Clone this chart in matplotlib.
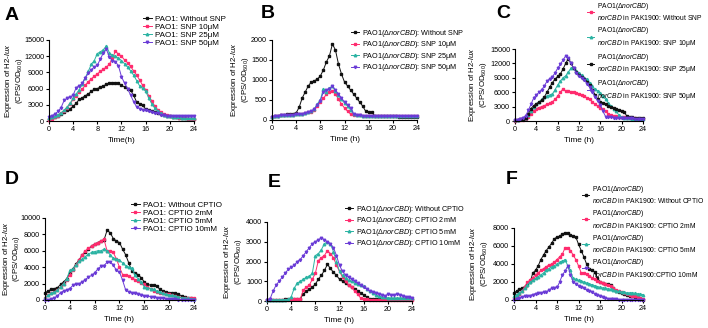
import numpy as np
import matplotlib
matplotlib.use('Agg')
import matplotlib.pyplot as plt

plt.rcParams['font.family'] = ['Liberation Sans', 'DejaVu Sans']
plt.rcParams['mathtext.fontset'] = 'custom'
plt.rcParams['mathtext.rm'] = 'Liberation Sans'
plt.rcParams['mathtext.it'] = 'Liberation Sans:italic'

# sampling every 0.5 h
time_h = np.arange(0, 24.5, 0.5)

# ---- A: PAO1 + SNP
a_none = [300, 500, 800, 1000, 1300, 1700, 2000, 2300, 2700, 3300, 4000, 4300, 4700, 5000, 5500, 5900, 6000,
          6300, 6500, 6800, 7000, 7100, 7100, 7000, 6600, 6300, 6000, 5700, 4800, 3500, 3200, 2900, 2200, 2000,
          1800, 1700, 1500, 1300, 1100, 1000, 900, 800, 700, 600, 550, 500, 450, 400, 400]
a_snp10 = [200, 400, 700, 1000, 1400, 1900, 2500, 3200, 4000, 4700, 5300, 5900, 6600, 7300, 7800, 8300, 8700,
           9200, 9600, 10000, 10500, 11700, 12900, 12400, 12000, 11300, 10800, 10100, 9300, 8500, 7600, 6600,
           5800, 4700, 3700, 2800, 2100, 1600, 1300, 1100, 900, 800, 700, 600, 550, 500, 450, 400, 400]
a_snp25 = [500, 700, 900, 1200, 1500, 2000, 2600, 3300, 4200, 5000, 5800, 6800, 8000, 9200, 10500, 11200,
           12500, 12800, 13200, 13900, 12600, 12200, 12000, 11600, 11200, 10600, 10000, 9300, 8500, 7500, 6500,
           6100, 5500, 4300, 3200, 2400, 1800, 1400, 1200, 1000, 900, 800, 700, 650, 600, 550, 500, 500, 500]
a_snp50 = [800, 1000, 1300, 1800, 2500, 3800, 4200, 4400, 4800, 6200, 6500, 7000, 8000, 8800, 9500, 10000,
           10300, 11500, 12600, 13300, 11800, 11200, 11000, 10200, 8200, 7000, 6000, 4800, 3600, 2600, 2300,
           2100, 2000, 1800, 1700, 1500, 1400, 1200, 1100, 1000, 950, 950, 900, 900, 900, 900, 900, 900, 900]

# ---- B: PAO1(dnorCBD) + SNP
b_none = [80, 100, 110, 120, 130, 140, 150, 160, 180, 320, 550, 700, 850, 950, 980, 1020, 1100, 1250, 1450,
          1600, 1900, 1750, 1400, 1150, 950, 850, 750, 650, 550, 450, 350, 220, 200, 190, 110, 100, 100, 95,
          95, 90, 90, 90, 85, 85, 85, 80, 80, 80, 80]
b_snp10 = [80, 95, 105, 115, 120, 125, 130, 135, 145, 150, 160, 170, 190, 210, 260, 350, 450, 540, 640, 700,
           720, 650, 520, 400, 300, 220, 150, 130, 120, 115, 110, 110, 105, 100, 100, 100, 95, 95, 95, 90, 90,
           90, 90, 90, 90, 90, 90, 90, 90]
b_snp25 = [80, 95, 105, 115, 120, 125, 130, 135, 145, 150, 160, 170, 190, 220, 280, 400, 500, 780, 700, 800,
           850, 720, 620, 520, 420, 350, 250, 150, 120, 115, 110, 110, 105, 100, 100, 100, 95, 95, 95, 90, 90,
           90, 90, 90, 90, 90, 90, 90, 90]
b_snp50 = [80, 95, 105, 115, 120, 125, 130, 135, 145, 150, 160, 170, 190, 220, 270, 380, 480, 700, 750, 780,
           850, 750, 650, 550, 450, 380, 300, 160, 120, 115, 110, 110, 105, 100, 100, 100, 95, 95, 95, 90, 90,
           90, 90, 90, 90, 90, 90, 90, 90]

# ---- C: complemented strain + SNP
c_none = [100, 150, 200, 300, 500, 900, 1500, 2100, 2600, 2800, 3000, 3200, 3500, 3700, 4000, 4500, 5200,
          6000, 6700, 6200, 6200, 6100, 6000, 5800, 5600, 5400, 5200, 4800, 4500, 4000, 3500, 3100, 2800, 2400,
          2000, 1500, 1200, 1100, 1000, 900, 800, 750, 700, 650, 600, 550, 500, 500, 500]
c_snp10 = [200, 250, 350, 450, 700, 1300, 2000, 2900, 3600, 4000, 4500, 5000, 5200, 5400, 5600, 6500, 7500,
           8300, 9000, 9400, 10200, 11000, 11100, 10500, 10000, 9500, 9000, 8700, 8000, 7200, 6600, 6300, 5900,
           5200, 4500, 3800, 3100, 2600, 2000, 1200, 800, 700, 600, 550, 500, 450, 400, 400, 400]
c_snp25 = [200, 250, 350, 450, 700, 1500, 2600, 3200, 3600, 3900, 4300, 5000, 6000, 7000, 8000, 8700, 9300,
           9800, 10800, 12000, 13000, 12000, 11000, 10300, 9600, 9200, 8800, 8200, 7500, 6500, 5500, 4600, 4000,
           3700, 3500, 3200, 3000, 2700, 2500, 2200, 2000, 1800, 1000, 900, 800, 700, 650, 600, 600]
c_snp50 = [200, 300, 500, 700, 1100, 2200, 3500, 4800, 5400, 6000, 6500, 7300, 8300, 8800, 9200, 10000, 11000,
           11800, 12700, 13600, 13100, 12000, 11000, 10000, 9300, 9000, 8600, 7800, 7000, 6000, 5000, 4200,
           3400, 2000, 900, 800, 750, 700, 700, 650, 650, 600, 600, 550, 550, 500, 500, 500, 500]

# ---- D: PAO1 + CPTIO
d_none = [900, 1100, 1300, 1400, 1500, 1900, 2200, 2600, 3300, 3800, 4400, 4900, 5500, 5800, 6200, 6600, 6800,
          7000, 7200, 7300, 8500, 8200, 7500, 7200, 7000, 6200, 5500, 4500, 3500, 3300, 3100, 2700, 2200, 1900,
          1800, 1800, 1700, 1300, 1100, 950, 900, 850, 800, 700, 500, 400, 300, 200, 100]
d_c2 = [300, 600, 800, 1000, 1200, 1600, 2000, 2500, 3100, 3600, 4300, 4900, 5500, 6000, 6300, 6600, 6800,
        7000, 7200, 7400, 6000, 6000, 5800, 5000, 4000, 3100, 3000, 2900, 2700, 2500, 2300, 2100, 1900, 1600,
        1300, 1100, 1000, 900, 800, 750, 700, 600, 500, 400, 300, 250, 200, 200, 200]
d_c5 = [300, 600, 800, 1000, 1200, 1600, 2000, 2600, 3600, 3800, 4300, 4700, 5000, 5300, 5600, 5800, 5900,
        6000, 6000, 6200, 6000, 5500, 5100, 5000, 4900, 4500, 4200, 4000, 3900, 3000, 2600, 2200, 1600, 1500,
        1400, 1300, 1100, 1000, 800, 700, 650, 550, 500, 400, 300, 250, 200, 150, 100]
d_c10 = [0, 50, 100, 250, 500, 900, 1100, 1200, 1400, 1800, 1900, 2000, 2200, 2500, 2800, 3000, 3300, 3800,
         4100, 4200, 4600, 4600, 4300, 3600, 3400, 2400, 1200, 1000, 900, 800, 700, 600, 500, 450, 400, 350,
         300, 250, 200, 150, 100, 100, 80, 60, 50, 40, 30, 20, 0]

# ---- E: PAO1(dnorCBD) + CPTIO
e_none = [50, 60, 60, 70, 70, 75, 80, 85, 90, 95, 100, 110, 350, 500, 600, 700, 850, 1100, 1300, 1550, 1850,
          1650, 1450, 1300, 1100, 1000, 900, 800, 700, 600, 500, 400, 300, 200, 100, 100, 100, 100, 100, 100,
          100, 100, 100, 100, 100, 100, 100, 100, 100]
e_c2 = [50, 55, 60, 60, 65, 70, 70, 75, 80, 85, 90, 100, 550, 700, 800, 1100, 1400, 2050, 2200, 2300, 2550,
        2400, 2200, 1800, 1500, 1200, 1000, 800, 700, 500, 350, 150, 100, 80, 70, 60, 60, 60, 60, 60, 60, 60,
        60, 60, 60, 60, 60, 60, 60]
e_c5 = [50, 55, 60, 60, 65, 70, 70, 80, 200, 650, 900, 1000, 1100, 1200, 1250, 1400, 2300, 2400, 2600, 2900,
        3000, 2900, 2500, 2000, 1500, 1300, 1150, 1050, 1000, 900, 850, 800, 750, 600, 500, 400, 300, 250, 200,
        180, 160, 150, 150, 150, 150, 150, 150, 150, 150]
e_c10 = [50, 100, 500, 800, 1000, 1200, 1400, 1600, 1700, 1800, 2000, 2100, 2300, 2500, 2700, 2900, 3000,
         3100, 3200, 3100, 3000, 2900, 2700, 2300, 1800, 1500, 1300, 1200, 1100, 1000, 900, 800, 700, 600, 500,
         450, 400, 350, 300, 250, 350, 300, 300, 350, 300, 250, 200, 200, 150]

# ---- F: complemented strain + CPTIO
f_none = [800, 1000, 1200, 1300, 1500, 1700, 2000, 3000, 3300, 3800, 4500, 5000, 5500, 5900, 6300, 6800, 7000,
          7100, 7300, 7500, 7400, 7200, 7100, 7000, 6200, 5500, 4800, 4000, 3500, 3300, 3100, 2500, 2000, 1900,
          1800, 1800, 1700, 1300, 1000, 900, 800, 700, 600, 500, 400, 300, 200, 100, 50]
f_c2 = [200, 400, 700, 1000, 1500, 2000, 2200, 2500, 2800, 3000, 3300, 3500, 3700, 3900, 4000, 4200, 4500,
        4800, 5100, 5800, 5800, 5500, 5000, 4500, 3800, 3000, 3000, 2900, 2700, 2500, 2300, 2100, 2000, 1900,
        1800, 1700, 1600, 1300, 1100, 1000, 900, 800, 700, 600, 500, 400, 300, 200, 100]
f_c5 = [400, 600, 800, 1000, 1300, 1700, 2000, 2200, 2400, 2600, 2800, 3000, 3300, 3500, 3700, 3800, 4000,
        4200, 4300, 4500, 3800, 3300, 2400, 2300, 2200, 2100, 2000, 1900, 1800, 1700, 1600, 1500, 1400, 1350,
        1300, 1250, 1200, 1100, 1000, 950, 900, 850, 800, 800, 800, 750, 700, 650, 600]
f_c10 = [0, 100, 200, 300, 400, 450, 500, 600, 700, 750, 800, 850, 900, 1100, 1300, 1350, 1400, 2000, 2800,
         3200, 3800, 2800, 2000, 1800, 1600, 1400, 1300, 1100, 1000, 850, 700, 550, 400, 300, 200, 150, 100,
         80, 60, 50, 50, 40, 30, 20, 10, 10, 0, 0, 0]

BLACK = '#111111'
PINK = '#ff2b6e'
TEAL = '#2bb3a3'
PURPLE = '#6a3bd6'

D = r'PAO1($\it{\Delta norCBD}$)'
C2 = D + '\n' + r'$\it{norCBD}$ in PAK1900'

panels = [
    dict(letter='A', rect=(49, 40, 194, 121), ymax=15000, ystep=3000, xlab='Time(h)', lpos=(143, 15),
         ylab_x=25, lfs=5.8,
         series=[(a_none, BLACK, 's', 'PAO1: Without SNP'), (a_snp10, PINK, 's', 'PAO1: SNP 10μM'),
                 (a_snp25, TEAL, '^', 'PAO1: SNP 25μM'), (a_snp50, PURPLE, 'v', 'PAO1: SNP 50μM')]),
    dict(letter='B', rect=(272, 40, 417, 120), ymax=2000, ystep=500, xlab='Time (h)', lpos=(351, 28),
         ylab_x=251, lfs=5.2,
         series=[(b_none, BLACK, 's', D + ': Without SNP'), (b_snp10, PINK, 's', D + ': SNP 10μM'),
                 (b_snp25, TEAL, '^', D + ': SNP 25μM'), (b_snp50, PURPLE, 'v', D + ': SNP 50μM')]),
    dict(letter='C', rect=(515, 49, 643, 121), ymax=15000, ystep=3000, xlab='Time (h)', lpos=(587, 1),
         ylab_x=489, lfs=4.9,
         series=[(c_none, PINK, 's', C2 + ': Without SNP'), (c_snp10, TEAL, '^', C2 + ': SNP 10μM'),
                 (c_snp25, BLACK, 's', C2 + ': SNP 25μM'), (c_snp50, PURPLE, 'v', C2 + ': SNP 50μM')]),
    dict(letter='D', rect=(45, 218, 194, 300), ymax=10000, ystep=2000, xlab='Time (h)', lpos=(131, 201),
         ylab_x=22.5, lfs=5.8,
         series=[(d_none, BLACK, 's', 'PAO1: Without CPTIO'), (d_c2, PINK, 's', 'PAO1: CPTIO 2mM'),
                 (d_c5, TEAL, '^', 'PAO1: CPTIO 5mM'), (d_c10, PURPLE, 'v', 'PAO1: CPTIO 10mM')]),
    dict(letter='E', rect=(267, 222, 412, 301), ymax=4000, ystep=1000, xlab='Time (h)', lpos=(345, 204),
         ylab_x=244, lfs=5.2,
         series=[(e_none, BLACK, 's', D + ': Without CPTIO'), (e_c2, PINK, 's', D + ': CPTIO 2mM'),
                 (e_c5, TEAL, '^', D + ': CPTIO 5mM'), (e_c10, PURPLE, 'v', D + ': CPTIO 10mM')]),
    dict(letter='F', rect=(514, 228, 643, 300), ymax=8000, ystep=2000, xlab='Time (h)', lpos=(582, 184),
         ylab_x=490, lfs=4.9,
         series=[(f_none, BLACK, 's', C2 + ': Without CPTIO'), (f_c2, PINK, 's', C2 + ': CPTIO 2mM'),
                 (f_c5, TEAL, '^', C2 + ': CPTIO 5mM'), (f_c10, PURPLE, 'v', C2 + ':CPTIO 10mM')]),
]
letter_pos = {'A': (12, 15), 'B': (268, 13), 'C': (503, 13), 'D': (12, 180), 'E': (274, 182), 'F': (512, 180)}

W, H = 708, 328
fig = plt.figure(figsize=(W / 100, H / 100), dpi=100)

for p in panels:
    l, t, r, b = p['rect']
    ax = fig.add_axes([l / W, 1 - b / H, (r - l) / W, (b - t) / H])
    for vals, col, mk, lab in p['series']:
        ax.plot(time_h, vals, color=col, marker=mk, markersize=1.8, lw=0.7, label=lab, clip_on=False)
    ax.set_xlim(0, 24)
    ax.set_ylim(0, p['ymax'])
    ax.set_xticks(range(0, 25, 4))
    ax.set_yticks(np.arange(0, p['ymax'] + 1, p['ystep']))
    for s in ['top', 'right']:
        ax.spines[s].set_visible(False)
    for s in ['left', 'bottom']:
        ax.spines[s].set_linewidth(0.8)
    ax.tick_params(labelsize=5.2, length=2.5, width=0.8, pad=1)
    ax.set_xlabel(p['xlab'], fontsize=5.9, labelpad=3)
    ax.set_ylabel('Expression of H2-$\\it{lux}$\n(CPS/OD$_{600}$)', fontsize=5.7, linespacing=1.0)
    ax.yaxis.set_label_coords((p['ylab_x'] - l) / (r - l), 0.5)
    two = p['letter'] in 'CF'
    lx, ly = p['lpos']
    ax.legend(loc='upper left', bbox_to_anchor=(lx / W, 1 - ly / H), bbox_transform=fig.transFigure,
              frameon=False, fontsize=p['lfs'], handlelength=1.1, handletextpad=0.4, borderpad=0,
              labelspacing=0.45 if two else 0.05, borderaxespad=0)
    x, y = letter_pos[p['letter']]
    fig.text(x / W, 1 - y / H, p['letter'], fontsize=14, fontweight='bold', ha='center', va='center')

fig.savefig('out.png', dpi=100)
